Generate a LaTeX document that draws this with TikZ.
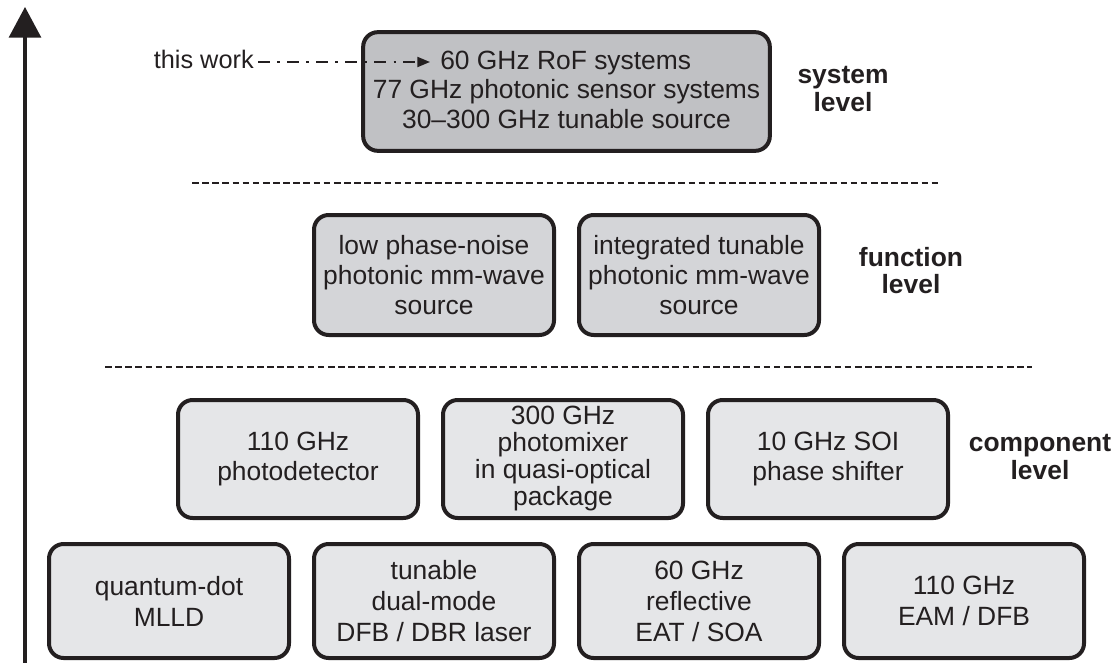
\documentclass[tikz,border=0pt]{standalone}
\usepackage{fontspec}
\setmainfont{Liberation Sans}
\usetikzlibrary{arrows.meta}
\definecolor{ink}{RGB}{35,31,32}
\definecolor{sysfill}{RGB}{192,193,196}
\definecolor{funfill}{RGB}{212,213,216}
\definecolor{compfill}{RGB}{229,230,232}
\begin{document}
\begin{tikzpicture}[x=0.75pt,y=-0.75pt,
  blk/.style={draw=ink, line width=3pt, rounded corners=11pt, align=center,
    text=ink, inner sep=0pt, font=\fontsize{19.8}{22.5}\selectfont},
  sysbox/.style={blk, fill=sysfill, minimum width=305pt, minimum height=89pt},
  funbox/.style={blk, fill=funfill, minimum width=180pt, minimum height=90pt},
  compbox/.style={blk, fill=compfill, minimum width=180pt, minimum height=88.5pt},
  basebox/.style={blk, fill=compfill, minimum width=180pt, minimum height=85.5pt,
    font=\fontsize{19.8}{23.2}\selectfont},
  lvl/.style={align=center, text=ink, inner sep=0pt,
    font=\fontsize{19.8}{20.3}\selectfont\bfseries},
  sep/.style={draw=ink, line width=1.6pt, dash pattern=on 5pt off 2.6pt},
]
\useasboundingbox (0,0) rectangle (1116,663);

% vertical axis
\coordinate (axbot) at (25,666);
\coordinate (axtop) at (25,7);
\draw[ink, line width=2.3pt, -{Triangle[length=23pt,width=24pt]}] (axbot) -- (axtop);

% system level
\node[sysbox] (sys) at (566.5,91.5) {\phantom{x}\\77 GHz photonic sensor systems\\30--300 GHz tunable source};
\node[text=ink, inner sep=0pt, anchor=base west, font=\fontsize{19.8}{22.5}\selectfont] (rof) at (440,70) {60 GHz RoF systems};
\node[text=ink, inner sep=0pt, anchor=base east, font=\fontsize{19}{22}\selectfont] (tw) at (254,69) {this work};
\coordinate (twend) at (430,62);
\draw[ink, line width=1.5pt, dash pattern=on 9pt off 5.5pt on 1.8pt off 5.5pt,
  -{Triangle[length=9.5pt,width=7.5pt]}] (tw.east |- twend) ++(4,0) -- (twend);
\node[lvl] (lsys) at (843,89) {system\\level};

\draw[sep] (192,183) -- (940,183);

% function level
\node[funbox] (f1) at (434,275) {low phase-noise\\photonic mm-wave\\source};
\node[funbox] (f2) at (699,275) {integrated tunable\\photonic mm-wave\\source};
\node[lvl] (lfun) at (911,271) {function\\level};

\draw[sep] (105,367) -- (1032,367);

% component level
\node[compbox] (c1) at (298,459) {110 GHz\\photodetector};
\node[compbox, font=\fontsize{19.8}{20.25}\selectfont] (c2) at (563,459) {300 GHz\\photomixer\\in quasi-optical\\package};
\node[compbox] (c3) at (828,459) {10 GHz SOI\\phase shifter};
\node[lvl] (lcomp) at (1040,457) {component\\level};

\node[basebox] (b1) at (169,601) {quantum-dot\\MLLD};
\node[basebox] (b2) at (434,601) {tunable\\dual-mode\\DFB / DBR laser};
\node[basebox] (b3) at (699,601) {60 GHz\\reflective\\EAT / SOA};
\node[basebox] (b4) at (964,601) {110 GHz\\EAM / DFB};
\end{tikzpicture}
\end{document}
